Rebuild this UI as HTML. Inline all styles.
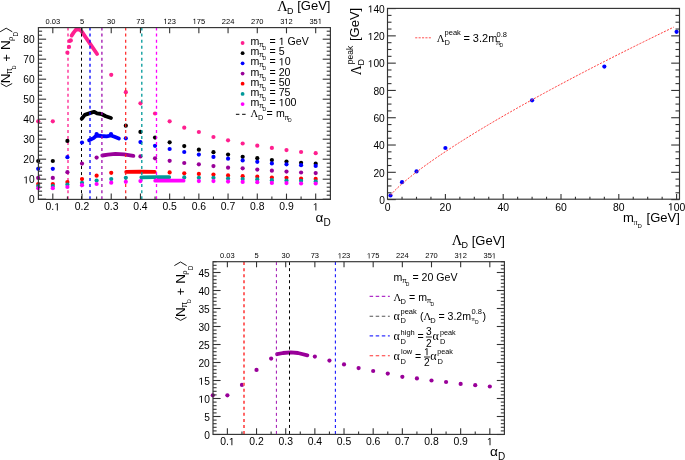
<!DOCTYPE html>
<html><head><meta charset="utf-8"><style>
html,body{margin:0;padding:0;background:#fff;}
svg{display:block;will-change:transform;}
text{font-family:"Liberation Sans",sans-serif;}
text.s{font-family:"Liberation Serif",serif;}
</style></head><body>
<svg width="685" height="460" viewBox="0 0 685 460">
<rect width="685" height="460" fill="#fff"/>
<circle cx="38.20" cy="121.30" r="2.1" fill="#ff1f8f"/>
<circle cx="52.81" cy="121.30" r="2.1" fill="#ff1f8f"/>
<circle cx="67.41" cy="52.70" r="2.1" fill="#ff1f8f"/>
<circle cx="111.23" cy="74.80" r="2.1" fill="#ff1f8f"/>
<circle cx="125.83" cy="92.20" r="2.1" fill="#ff1f8f"/>
<circle cx="140.44" cy="103.30" r="2.1" fill="#ff1f8f"/>
<circle cx="155.04" cy="113.50" r="2.1" fill="#ff1f8f"/>
<circle cx="169.65" cy="121.30" r="2.1" fill="#ff1f8f"/>
<circle cx="184.25" cy="127.70" r="2.1" fill="#ff1f8f"/>
<circle cx="198.86" cy="132.00" r="2.1" fill="#ff1f8f"/>
<circle cx="213.46" cy="137.00" r="2.1" fill="#ff1f8f"/>
<circle cx="228.06" cy="140.30" r="2.1" fill="#ff1f8f"/>
<circle cx="242.67" cy="143.50" r="2.1" fill="#ff1f8f"/>
<circle cx="257.28" cy="145.70" r="2.1" fill="#ff1f8f"/>
<circle cx="271.88" cy="147.90" r="2.1" fill="#ff1f8f"/>
<circle cx="286.49" cy="150.10" r="2.1" fill="#ff1f8f"/>
<circle cx="301.09" cy="152.00" r="2.1" fill="#ff1f8f"/>
<circle cx="315.69" cy="153.20" r="2.1" fill="#ff1f8f"/>
<path d="M71.60,35.60 L73.60,32.60 L75.90,29.70 L77.60,29.40 L79.40,29.60 L81.60,31.40 L97.10,54.00" fill="none" stroke="#ff1f8f" stroke-width="3.8" stroke-linecap="round" stroke-linejoin="round"/>
<circle cx="69.00" cy="46.90" r="2.1" fill="#ff1f8f"/>
<circle cx="69.60" cy="41.00" r="2.1" fill="#ff1f8f"/>
<circle cx="70.80" cy="40.40" r="2.1" fill="#ff1f8f"/>
<line x1="68.00" y1="27.60" x2="68.00" y2="199.40" stroke="#ff1f8f" stroke-width="1.3" stroke-dasharray="3 3.02" stroke-dashoffset="0"/>
<circle cx="38.20" cy="161.00" r="2.1" fill="#000000"/>
<circle cx="52.81" cy="161.00" r="2.1" fill="#000000"/>
<circle cx="67.41" cy="140.90" r="2.1" fill="#000000"/>
<circle cx="125.83" cy="125.70" r="2.1" fill="#000000"/>
<circle cx="140.44" cy="131.90" r="2.1" fill="#000000"/>
<circle cx="155.04" cy="137.60" r="2.1" fill="#000000"/>
<circle cx="169.65" cy="142.30" r="2.1" fill="#000000"/>
<circle cx="184.25" cy="146.10" r="2.1" fill="#000000"/>
<circle cx="198.86" cy="149.70" r="2.1" fill="#000000"/>
<circle cx="213.46" cy="152.20" r="2.1" fill="#000000"/>
<circle cx="228.06" cy="154.60" r="2.1" fill="#000000"/>
<circle cx="242.67" cy="156.80" r="2.1" fill="#000000"/>
<circle cx="257.28" cy="158.20" r="2.1" fill="#000000"/>
<circle cx="271.88" cy="160.10" r="2.1" fill="#000000"/>
<circle cx="286.49" cy="161.60" r="2.1" fill="#000000"/>
<circle cx="301.09" cy="162.80" r="2.1" fill="#000000"/>
<circle cx="315.69" cy="163.70" r="2.1" fill="#000000"/>
<path d="M81.70,118.80 L84.80,114.90 L90.00,113.10 L94.00,111.80 L97.00,113.40 L101.40,114.00 L105.80,116.20 L111.00,118.00" fill="none" stroke="#000000" stroke-width="3.8" stroke-linecap="round" stroke-linejoin="round"/>
<line x1="81.50" y1="27.60" x2="81.50" y2="199.40" stroke="#000000" stroke-width="1.0" stroke-dasharray="3 3.02" stroke-dashoffset="0"/>
<circle cx="38.20" cy="168.80" r="2.1" fill="#0000ff"/>
<circle cx="52.81" cy="168.80" r="2.1" fill="#0000ff"/>
<circle cx="67.41" cy="157.20" r="2.1" fill="#0000ff"/>
<circle cx="82.02" cy="142.50" r="2.1" fill="#0000ff"/>
<circle cx="125.83" cy="138.30" r="2.1" fill="#0000ff"/>
<circle cx="140.44" cy="142.10" r="2.1" fill="#0000ff"/>
<circle cx="155.04" cy="145.80" r="2.1" fill="#0000ff"/>
<circle cx="169.65" cy="149.00" r="2.1" fill="#0000ff"/>
<circle cx="184.25" cy="152.00" r="2.1" fill="#0000ff"/>
<circle cx="198.86" cy="154.60" r="2.1" fill="#0000ff"/>
<circle cx="213.46" cy="156.90" r="2.1" fill="#0000ff"/>
<circle cx="228.06" cy="158.70" r="2.1" fill="#0000ff"/>
<circle cx="242.67" cy="160.40" r="2.1" fill="#0000ff"/>
<circle cx="257.28" cy="161.80" r="2.1" fill="#0000ff"/>
<circle cx="271.88" cy="163.40" r="2.1" fill="#0000ff"/>
<circle cx="286.49" cy="164.30" r="2.1" fill="#0000ff"/>
<circle cx="301.09" cy="165.20" r="2.1" fill="#0000ff"/>
<circle cx="315.69" cy="165.90" r="2.1" fill="#0000ff"/>
<path d="M89.10,140.30 L93.50,138.10 L96.60,135.50 L101.40,136.00 L106.60,136.40 L111.00,135.50 L114.50,136.80 L118.90,138.60" fill="none" stroke="#0000ff" stroke-width="3.8" stroke-linecap="round" stroke-linejoin="round"/>
<circle cx="96.60" cy="134.00" r="2.1" fill="#0000ff"/>
<circle cx="111.00" cy="134.00" r="2.1" fill="#0000ff"/>
<line x1="90.00" y1="27.60" x2="90.00" y2="199.40" stroke="#0000ff" stroke-width="1.3" stroke-dasharray="3 3.02" stroke-dashoffset="0"/>
<circle cx="38.20" cy="177.90" r="2.1" fill="#990099"/>
<circle cx="52.81" cy="177.90" r="2.1" fill="#990099"/>
<circle cx="67.41" cy="172.20" r="2.1" fill="#990099"/>
<circle cx="82.02" cy="163.60" r="2.1" fill="#990099"/>
<circle cx="96.62" cy="157.60" r="2.1" fill="#990099"/>
<circle cx="140.44" cy="156.40" r="2.1" fill="#990099"/>
<circle cx="155.04" cy="158.30" r="2.1" fill="#990099"/>
<circle cx="169.65" cy="160.80" r="2.1" fill="#990099"/>
<circle cx="184.25" cy="163.00" r="2.1" fill="#990099"/>
<circle cx="198.86" cy="164.30" r="2.1" fill="#990099"/>
<circle cx="213.46" cy="166.10" r="2.1" fill="#990099"/>
<circle cx="228.06" cy="167.70" r="2.1" fill="#990099"/>
<circle cx="242.67" cy="168.30" r="2.1" fill="#990099"/>
<circle cx="257.28" cy="169.60" r="2.1" fill="#990099"/>
<circle cx="271.88" cy="170.70" r="2.1" fill="#990099"/>
<circle cx="286.49" cy="171.60" r="2.1" fill="#990099"/>
<circle cx="301.09" cy="172.50" r="2.1" fill="#990099"/>
<circle cx="315.69" cy="173.10" r="2.1" fill="#990099"/>
<path d="M102.30,155.50 L108.00,154.60 L115.40,153.90 L124.00,154.40 L133.40,155.90" fill="none" stroke="#990099" stroke-width="3.8" stroke-linecap="round" stroke-linejoin="round"/>
<line x1="101.90" y1="27.60" x2="101.90" y2="199.40" stroke="#a010b0" stroke-width="1.3" stroke-dasharray="3 3.02" stroke-dashoffset="0"/>
<circle cx="38.20" cy="184.00" r="2.1" fill="#ff0000"/>
<circle cx="52.81" cy="184.10" r="2.1" fill="#ff0000"/>
<circle cx="67.41" cy="182.10" r="2.1" fill="#ff0000"/>
<circle cx="82.02" cy="179.10" r="2.1" fill="#ff0000"/>
<circle cx="96.62" cy="175.70" r="2.1" fill="#ff0000"/>
<circle cx="111.23" cy="172.80" r="2.1" fill="#ff0000"/>
<circle cx="169.65" cy="172.40" r="2.1" fill="#ff0000"/>
<circle cx="184.25" cy="173.30" r="2.1" fill="#ff0000"/>
<circle cx="198.86" cy="173.90" r="2.1" fill="#ff0000"/>
<circle cx="213.46" cy="174.50" r="2.1" fill="#ff0000"/>
<circle cx="228.06" cy="175.40" r="2.1" fill="#ff0000"/>
<circle cx="242.67" cy="176.20" r="2.1" fill="#ff0000"/>
<circle cx="257.28" cy="176.70" r="2.1" fill="#ff0000"/>
<circle cx="271.88" cy="177.50" r="2.1" fill="#ff0000"/>
<circle cx="286.49" cy="177.80" r="2.1" fill="#ff0000"/>
<circle cx="301.09" cy="178.70" r="2.1" fill="#ff0000"/>
<circle cx="315.69" cy="178.90" r="2.1" fill="#ff0000"/>
<path d="M126.20,171.90 L140.00,171.60 L154.70,171.90" fill="none" stroke="#ff0000" stroke-width="3.8" stroke-linecap="round" stroke-linejoin="round"/>
<line x1="125.70" y1="27.60" x2="125.70" y2="199.40" stroke="#ff1a1a" stroke-width="1.15" stroke-dasharray="3 3.02" stroke-dashoffset="0"/>
<circle cx="38.20" cy="186.00" r="2.1" fill="#009999"/>
<circle cx="52.81" cy="186.10" r="2.1" fill="#009999"/>
<circle cx="67.41" cy="184.60" r="2.1" fill="#009999"/>
<circle cx="82.02" cy="182.80" r="2.1" fill="#009999"/>
<circle cx="96.62" cy="180.60" r="2.1" fill="#009999"/>
<circle cx="111.23" cy="179.10" r="2.1" fill="#009999"/>
<circle cx="125.83" cy="177.80" r="2.1" fill="#009999"/>
<circle cx="184.25" cy="177.40" r="2.1" fill="#009999"/>
<circle cx="198.86" cy="177.80" r="2.1" fill="#009999"/>
<circle cx="213.46" cy="177.80" r="2.1" fill="#009999"/>
<circle cx="228.06" cy="178.60" r="2.1" fill="#009999"/>
<circle cx="242.67" cy="179.10" r="2.1" fill="#009999"/>
<circle cx="257.28" cy="179.40" r="2.1" fill="#009999"/>
<circle cx="271.88" cy="180.20" r="2.1" fill="#009999"/>
<circle cx="286.49" cy="180.50" r="2.1" fill="#009999"/>
<circle cx="301.09" cy="180.80" r="2.1" fill="#009999"/>
<circle cx="315.69" cy="181.40" r="2.1" fill="#009999"/>
<path d="M141.30,177.30 L155.00,177.10 L169.20,177.20" fill="none" stroke="#009999" stroke-width="3.8" stroke-linecap="round" stroke-linejoin="round"/>
<line x1="141.80" y1="27.60" x2="141.80" y2="199.40" stroke="#009999" stroke-width="1.3" stroke-dasharray="3 3.02" stroke-dashoffset="0"/>
<circle cx="38.20" cy="188.20" r="2.1" fill="#ff00ff"/>
<circle cx="52.81" cy="188.20" r="2.1" fill="#ff00ff"/>
<circle cx="67.41" cy="187.00" r="2.1" fill="#ff00ff"/>
<circle cx="82.02" cy="185.20" r="2.1" fill="#ff00ff"/>
<circle cx="96.62" cy="184.00" r="2.1" fill="#ff00ff"/>
<circle cx="111.23" cy="182.70" r="2.1" fill="#ff00ff"/>
<circle cx="125.83" cy="181.80" r="2.1" fill="#ff00ff"/>
<circle cx="140.44" cy="181.10" r="2.1" fill="#ff00ff"/>
<circle cx="198.86" cy="181.10" r="2.1" fill="#ff00ff"/>
<circle cx="213.46" cy="181.10" r="2.1" fill="#ff00ff"/>
<circle cx="228.06" cy="181.60" r="2.1" fill="#ff00ff"/>
<circle cx="242.67" cy="181.90" r="2.1" fill="#ff00ff"/>
<circle cx="257.28" cy="182.20" r="2.1" fill="#ff00ff"/>
<circle cx="271.88" cy="182.90" r="2.1" fill="#ff00ff"/>
<circle cx="286.49" cy="183.10" r="2.1" fill="#ff00ff"/>
<circle cx="301.09" cy="183.50" r="2.1" fill="#ff00ff"/>
<circle cx="315.69" cy="183.50" r="2.1" fill="#ff00ff"/>
<path d="M155.20,180.70 L170.00,180.60 L183.60,180.70" fill="none" stroke="#ff00ff" stroke-width="3.8" stroke-linecap="round" stroke-linejoin="round"/>
<line x1="156.50" y1="27.60" x2="156.50" y2="199.40" stroke="#ff00ff" stroke-width="1.3" stroke-dasharray="3 3.02" stroke-dashoffset="0"/>
<rect x="38.40" y="27.60" width="292.00" height="171.80" fill="none" stroke="#333" stroke-width="1.15"/>
<line x1="38.40" y1="199.20" x2="46.10" y2="199.20" stroke="#333" stroke-width="1.1" />
<line x1="330.40" y1="199.20" x2="322.70" y2="199.20" stroke="#333" stroke-width="1.1" />
<line x1="38.40" y1="195.20" x2="42.10" y2="195.20" stroke="#333" stroke-width="1.1" />
<line x1="330.40" y1="195.20" x2="326.70" y2="195.20" stroke="#333" stroke-width="1.1" />
<line x1="38.40" y1="191.20" x2="42.10" y2="191.20" stroke="#333" stroke-width="1.1" />
<line x1="330.40" y1="191.20" x2="326.70" y2="191.20" stroke="#333" stroke-width="1.1" />
<line x1="38.40" y1="187.20" x2="42.10" y2="187.20" stroke="#333" stroke-width="1.1" />
<line x1="330.40" y1="187.20" x2="326.70" y2="187.20" stroke="#333" stroke-width="1.1" />
<line x1="38.40" y1="183.20" x2="42.10" y2="183.20" stroke="#333" stroke-width="1.1" />
<line x1="330.40" y1="183.20" x2="326.70" y2="183.20" stroke="#333" stroke-width="1.1" />
<line x1="38.40" y1="179.20" x2="46.10" y2="179.20" stroke="#333" stroke-width="1.1" />
<line x1="330.40" y1="179.20" x2="322.70" y2="179.20" stroke="#333" stroke-width="1.1" />
<line x1="38.40" y1="175.20" x2="42.10" y2="175.20" stroke="#333" stroke-width="1.1" />
<line x1="330.40" y1="175.20" x2="326.70" y2="175.20" stroke="#333" stroke-width="1.1" />
<line x1="38.40" y1="171.20" x2="42.10" y2="171.20" stroke="#333" stroke-width="1.1" />
<line x1="330.40" y1="171.20" x2="326.70" y2="171.20" stroke="#333" stroke-width="1.1" />
<line x1="38.40" y1="167.20" x2="42.10" y2="167.20" stroke="#333" stroke-width="1.1" />
<line x1="330.40" y1="167.20" x2="326.70" y2="167.20" stroke="#333" stroke-width="1.1" />
<line x1="38.40" y1="163.20" x2="42.10" y2="163.20" stroke="#333" stroke-width="1.1" />
<line x1="330.40" y1="163.20" x2="326.70" y2="163.20" stroke="#333" stroke-width="1.1" />
<line x1="38.40" y1="159.20" x2="46.10" y2="159.20" stroke="#333" stroke-width="1.1" />
<line x1="330.40" y1="159.20" x2="322.70" y2="159.20" stroke="#333" stroke-width="1.1" />
<line x1="38.40" y1="155.20" x2="42.10" y2="155.20" stroke="#333" stroke-width="1.1" />
<line x1="330.40" y1="155.20" x2="326.70" y2="155.20" stroke="#333" stroke-width="1.1" />
<line x1="38.40" y1="151.20" x2="42.10" y2="151.20" stroke="#333" stroke-width="1.1" />
<line x1="330.40" y1="151.20" x2="326.70" y2="151.20" stroke="#333" stroke-width="1.1" />
<line x1="38.40" y1="147.20" x2="42.10" y2="147.20" stroke="#333" stroke-width="1.1" />
<line x1="330.40" y1="147.20" x2="326.70" y2="147.20" stroke="#333" stroke-width="1.1" />
<line x1="38.40" y1="143.20" x2="42.10" y2="143.20" stroke="#333" stroke-width="1.1" />
<line x1="330.40" y1="143.20" x2="326.70" y2="143.20" stroke="#333" stroke-width="1.1" />
<line x1="38.40" y1="139.20" x2="46.10" y2="139.20" stroke="#333" stroke-width="1.1" />
<line x1="330.40" y1="139.20" x2="322.70" y2="139.20" stroke="#333" stroke-width="1.1" />
<line x1="38.40" y1="135.20" x2="42.10" y2="135.20" stroke="#333" stroke-width="1.1" />
<line x1="330.40" y1="135.20" x2="326.70" y2="135.20" stroke="#333" stroke-width="1.1" />
<line x1="38.40" y1="131.20" x2="42.10" y2="131.20" stroke="#333" stroke-width="1.1" />
<line x1="330.40" y1="131.20" x2="326.70" y2="131.20" stroke="#333" stroke-width="1.1" />
<line x1="38.40" y1="127.20" x2="42.10" y2="127.20" stroke="#333" stroke-width="1.1" />
<line x1="330.40" y1="127.20" x2="326.70" y2="127.20" stroke="#333" stroke-width="1.1" />
<line x1="38.40" y1="123.20" x2="42.10" y2="123.20" stroke="#333" stroke-width="1.1" />
<line x1="330.40" y1="123.20" x2="326.70" y2="123.20" stroke="#333" stroke-width="1.1" />
<line x1="38.40" y1="119.20" x2="46.10" y2="119.20" stroke="#333" stroke-width="1.1" />
<line x1="330.40" y1="119.20" x2="322.70" y2="119.20" stroke="#333" stroke-width="1.1" />
<line x1="38.40" y1="115.20" x2="42.10" y2="115.20" stroke="#333" stroke-width="1.1" />
<line x1="330.40" y1="115.20" x2="326.70" y2="115.20" stroke="#333" stroke-width="1.1" />
<line x1="38.40" y1="111.20" x2="42.10" y2="111.20" stroke="#333" stroke-width="1.1" />
<line x1="330.40" y1="111.20" x2="326.70" y2="111.20" stroke="#333" stroke-width="1.1" />
<line x1="38.40" y1="107.20" x2="42.10" y2="107.20" stroke="#333" stroke-width="1.1" />
<line x1="330.40" y1="107.20" x2="326.70" y2="107.20" stroke="#333" stroke-width="1.1" />
<line x1="38.40" y1="103.20" x2="42.10" y2="103.20" stroke="#333" stroke-width="1.1" />
<line x1="330.40" y1="103.20" x2="326.70" y2="103.20" stroke="#333" stroke-width="1.1" />
<line x1="38.40" y1="99.20" x2="46.10" y2="99.20" stroke="#333" stroke-width="1.1" />
<line x1="330.40" y1="99.20" x2="322.70" y2="99.20" stroke="#333" stroke-width="1.1" />
<line x1="38.40" y1="95.20" x2="42.10" y2="95.20" stroke="#333" stroke-width="1.1" />
<line x1="330.40" y1="95.20" x2="326.70" y2="95.20" stroke="#333" stroke-width="1.1" />
<line x1="38.40" y1="91.20" x2="42.10" y2="91.20" stroke="#333" stroke-width="1.1" />
<line x1="330.40" y1="91.20" x2="326.70" y2="91.20" stroke="#333" stroke-width="1.1" />
<line x1="38.40" y1="87.20" x2="42.10" y2="87.20" stroke="#333" stroke-width="1.1" />
<line x1="330.40" y1="87.20" x2="326.70" y2="87.20" stroke="#333" stroke-width="1.1" />
<line x1="38.40" y1="83.20" x2="42.10" y2="83.20" stroke="#333" stroke-width="1.1" />
<line x1="330.40" y1="83.20" x2="326.70" y2="83.20" stroke="#333" stroke-width="1.1" />
<line x1="38.40" y1="79.20" x2="46.10" y2="79.20" stroke="#333" stroke-width="1.1" />
<line x1="330.40" y1="79.20" x2="322.70" y2="79.20" stroke="#333" stroke-width="1.1" />
<line x1="38.40" y1="75.20" x2="42.10" y2="75.20" stroke="#333" stroke-width="1.1" />
<line x1="330.40" y1="75.20" x2="326.70" y2="75.20" stroke="#333" stroke-width="1.1" />
<line x1="38.40" y1="71.20" x2="42.10" y2="71.20" stroke="#333" stroke-width="1.1" />
<line x1="330.40" y1="71.20" x2="326.70" y2="71.20" stroke="#333" stroke-width="1.1" />
<line x1="38.40" y1="67.20" x2="42.10" y2="67.20" stroke="#333" stroke-width="1.1" />
<line x1="330.40" y1="67.20" x2="326.70" y2="67.20" stroke="#333" stroke-width="1.1" />
<line x1="38.40" y1="63.20" x2="42.10" y2="63.20" stroke="#333" stroke-width="1.1" />
<line x1="330.40" y1="63.20" x2="326.70" y2="63.20" stroke="#333" stroke-width="1.1" />
<line x1="38.40" y1="59.20" x2="46.10" y2="59.20" stroke="#333" stroke-width="1.1" />
<line x1="330.40" y1="59.20" x2="322.70" y2="59.20" stroke="#333" stroke-width="1.1" />
<line x1="38.40" y1="55.20" x2="42.10" y2="55.20" stroke="#333" stroke-width="1.1" />
<line x1="330.40" y1="55.20" x2="326.70" y2="55.20" stroke="#333" stroke-width="1.1" />
<line x1="38.40" y1="51.20" x2="42.10" y2="51.20" stroke="#333" stroke-width="1.1" />
<line x1="330.40" y1="51.20" x2="326.70" y2="51.20" stroke="#333" stroke-width="1.1" />
<line x1="38.40" y1="47.20" x2="42.10" y2="47.20" stroke="#333" stroke-width="1.1" />
<line x1="330.40" y1="47.20" x2="326.70" y2="47.20" stroke="#333" stroke-width="1.1" />
<line x1="38.40" y1="43.20" x2="42.10" y2="43.20" stroke="#333" stroke-width="1.1" />
<line x1="330.40" y1="43.20" x2="326.70" y2="43.20" stroke="#333" stroke-width="1.1" />
<line x1="38.40" y1="39.20" x2="46.10" y2="39.20" stroke="#333" stroke-width="1.1" />
<line x1="330.40" y1="39.20" x2="322.70" y2="39.20" stroke="#333" stroke-width="1.1" />
<line x1="38.40" y1="35.20" x2="42.10" y2="35.20" stroke="#333" stroke-width="1.1" />
<line x1="330.40" y1="35.20" x2="326.70" y2="35.20" stroke="#333" stroke-width="1.1" />
<line x1="38.40" y1="31.20" x2="42.10" y2="31.20" stroke="#333" stroke-width="1.1" />
<line x1="330.40" y1="31.20" x2="326.70" y2="31.20" stroke="#333" stroke-width="1.1" />
<line x1="52.81" y1="199.40" x2="52.81" y2="193.60" stroke="#333" stroke-width="1.1" />
<line x1="67.41" y1="199.40" x2="67.41" y2="196.50" stroke="#333" stroke-width="1.1" />
<line x1="82.02" y1="199.40" x2="82.02" y2="193.60" stroke="#333" stroke-width="1.1" />
<line x1="96.62" y1="199.40" x2="96.62" y2="196.50" stroke="#333" stroke-width="1.1" />
<line x1="111.23" y1="199.40" x2="111.23" y2="193.60" stroke="#333" stroke-width="1.1" />
<line x1="125.83" y1="199.40" x2="125.83" y2="196.50" stroke="#333" stroke-width="1.1" />
<line x1="140.44" y1="199.40" x2="140.44" y2="193.60" stroke="#333" stroke-width="1.1" />
<line x1="155.04" y1="199.40" x2="155.04" y2="196.50" stroke="#333" stroke-width="1.1" />
<line x1="169.65" y1="199.40" x2="169.65" y2="193.60" stroke="#333" stroke-width="1.1" />
<line x1="184.25" y1="199.40" x2="184.25" y2="196.50" stroke="#333" stroke-width="1.1" />
<line x1="198.86" y1="199.40" x2="198.86" y2="193.60" stroke="#333" stroke-width="1.1" />
<line x1="213.46" y1="199.40" x2="213.46" y2="196.50" stroke="#333" stroke-width="1.1" />
<line x1="228.06" y1="199.40" x2="228.06" y2="193.60" stroke="#333" stroke-width="1.1" />
<line x1="242.67" y1="199.40" x2="242.67" y2="196.50" stroke="#333" stroke-width="1.1" />
<line x1="257.28" y1="199.40" x2="257.28" y2="193.60" stroke="#333" stroke-width="1.1" />
<line x1="271.88" y1="199.40" x2="271.88" y2="196.50" stroke="#333" stroke-width="1.1" />
<line x1="286.49" y1="199.40" x2="286.49" y2="193.60" stroke="#333" stroke-width="1.1" />
<line x1="301.09" y1="199.40" x2="301.09" y2="196.50" stroke="#333" stroke-width="1.1" />
<line x1="315.69" y1="199.40" x2="315.69" y2="193.60" stroke="#333" stroke-width="1.1" />
<line x1="52.81" y1="27.60" x2="52.81" y2="33.30" stroke="#333" stroke-width="1.1" />
<text x="52.81" y="24.00" font-size="7.5" text-anchor="middle" fill="#000" >0.03</text>
<line x1="82.02" y1="27.60" x2="82.02" y2="33.30" stroke="#333" stroke-width="1.1" />
<text x="82.02" y="24.00" font-size="7.5" text-anchor="middle" fill="#000" >5</text>
<line x1="111.23" y1="27.60" x2="111.23" y2="33.30" stroke="#333" stroke-width="1.1" />
<text x="111.23" y="24.00" font-size="7.5" text-anchor="middle" fill="#000" >30</text>
<line x1="140.44" y1="27.60" x2="140.44" y2="33.30" stroke="#333" stroke-width="1.1" />
<text x="140.44" y="24.00" font-size="7.5" text-anchor="middle" fill="#000" >73</text>
<line x1="169.65" y1="27.60" x2="169.65" y2="33.30" stroke="#333" stroke-width="1.1" />
<path d="M515,0 L515,1237 L197,1010 L197,1180 L530,1409 L696,1409 L696,0 Z" fill="#000" transform="translate(163.39,24.00) scale(0.00366,-0.00366)"/>
<text x="167.56" y="24.00" font-size="7.5" fill="#000" xml:space="preserve">23</text>
<line x1="198.86" y1="27.60" x2="198.86" y2="33.30" stroke="#333" stroke-width="1.1" />
<path d="M515,0 L515,1237 L197,1010 L197,1180 L530,1409 L696,1409 L696,0 Z" fill="#000" transform="translate(192.60,24.00) scale(0.00366,-0.00366)"/>
<text x="196.77" y="24.00" font-size="7.5" fill="#000" xml:space="preserve">75</text>
<line x1="228.06" y1="27.60" x2="228.06" y2="33.30" stroke="#333" stroke-width="1.1" />
<text x="228.06" y="24.00" font-size="7.5" text-anchor="middle" fill="#000" >224</text>
<line x1="257.28" y1="27.60" x2="257.28" y2="33.30" stroke="#333" stroke-width="1.1" />
<text x="257.28" y="24.00" font-size="7.5" text-anchor="middle" fill="#000" >270</text>
<line x1="286.49" y1="27.60" x2="286.49" y2="33.30" stroke="#333" stroke-width="1.1" />
<text x="280.23" y="24.00" font-size="7.5" fill="#000" xml:space="preserve">3</text>
<path d="M515,0 L515,1237 L197,1010 L197,1180 L530,1409 L696,1409 L696,0 Z" fill="#000" transform="translate(284.40,24.00) scale(0.00366,-0.00366)"/>
<text x="288.57" y="24.00" font-size="7.5" fill="#000" xml:space="preserve">2</text>
<line x1="315.69" y1="27.60" x2="315.69" y2="33.30" stroke="#333" stroke-width="1.1" />
<text x="309.44" y="24.00" font-size="7.5" fill="#000" xml:space="preserve">35</text>
<path d="M515,0 L515,1237 L197,1010 L197,1180 L530,1409 L696,1409 L696,0 Z" fill="#000" transform="translate(317.78,24.00) scale(0.00366,-0.00366)"/>
<text x="45.58" y="210.40" font-size="10.4" fill="#000" xml:space="preserve">0.</text>
<path d="M515,0 L515,1237 L197,1010 L197,1180 L530,1409 L696,1409 L696,0 Z" fill="#000" transform="translate(54.25,210.40) scale(0.00508,-0.00508)"/>
<text x="82.02" y="210.40" font-size="10.4" text-anchor="middle" fill="#000" >0.2</text>
<text x="111.23" y="210.40" font-size="10.4" text-anchor="middle" fill="#000" >0.3</text>
<text x="140.44" y="210.40" font-size="10.4" text-anchor="middle" fill="#000" >0.4</text>
<text x="169.65" y="210.40" font-size="10.4" text-anchor="middle" fill="#000" >0.5</text>
<text x="198.86" y="210.40" font-size="10.4" text-anchor="middle" fill="#000" >0.6</text>
<text x="228.06" y="210.40" font-size="10.4" text-anchor="middle" fill="#000" >0.7</text>
<text x="257.28" y="210.40" font-size="10.4" text-anchor="middle" fill="#000" >0.8</text>
<text x="286.49" y="210.40" font-size="10.4" text-anchor="middle" fill="#000" >0.9</text>
<path d="M515,0 L515,1237 L197,1010 L197,1180 L530,1409 L696,1409 L696,0 Z" fill="#000" transform="translate(312.80,210.40) scale(0.00508,-0.00508)"/>
<text x="34.60" y="203.40" font-size="10.2" text-anchor="end" fill="#000" >0</text>
<path d="M515,0 L515,1237 L197,1010 L197,1180 L530,1409 L696,1409 L696,0 Z" fill="#000" transform="translate(23.25,183.40) scale(0.00498,-0.00498)"/>
<text x="28.93" y="183.40" font-size="10.2" fill="#000" xml:space="preserve">0</text>
<text x="34.60" y="163.40" font-size="10.2" text-anchor="end" fill="#000" >20</text>
<text x="34.60" y="143.40" font-size="10.2" text-anchor="end" fill="#000" >30</text>
<text x="34.60" y="123.40" font-size="10.2" text-anchor="end" fill="#000" >40</text>
<text x="34.60" y="103.40" font-size="10.2" text-anchor="end" fill="#000" >50</text>
<text x="34.60" y="83.40" font-size="10.2" text-anchor="end" fill="#000" >60</text>
<text x="34.60" y="63.40" font-size="10.2" text-anchor="end" fill="#000" >70</text>
<text x="34.60" y="43.40" font-size="10.2" text-anchor="end" fill="#000" >80</text>
<text x="330.50" y="10.10" font-size="13" text-anchor="end" fill="#000" >[GeV]</text>
<text x="277.30" y="10.90" font-size="14.5" text-anchor="start" fill="#000" style="font-family:'Liberation Serif',serif">Λ</text>
<text x="287.00" y="13.60" font-size="9" text-anchor="start" fill="#000" >D</text>
<text x="315.40" y="221.80" font-size="13.6" text-anchor="start" fill="#000" >α</text>
<text x="323.40" y="225.70" font-size="10" text-anchor="start" fill="#000" >D</text>
<circle cx="390.49" cy="195.50" r="2.1" fill="#0000ff"/>
<circle cx="402.05" cy="182.20" r="2.1" fill="#0000ff"/>
<circle cx="416.50" cy="171.40" r="2.1" fill="#0000ff"/>
<circle cx="445.40" cy="148.00" r="2.1" fill="#0000ff"/>
<circle cx="532.10" cy="100.30" r="2.1" fill="#0000ff"/>
<circle cx="604.35" cy="66.60" r="2.1" fill="#0000ff"/>
<circle cx="676.60" cy="31.80" r="2.1" fill="#0000ff"/>
<path d="M390.49,195.23 L391.94,193.56 L393.38,192.00 L394.83,190.51 L396.27,189.08 L397.72,187.70 L399.16,186.36 L400.61,185.06 L402.05,183.78 L403.50,182.52 L404.94,181.29 L406.39,180.08 L407.83,178.89 L409.28,177.71 L410.72,176.55 L412.17,175.41 L413.61,174.28 L415.06,173.16 L416.50,172.05 L417.95,170.95 L419.39,169.87 L420.84,168.79 L422.28,167.72 L423.73,166.67 L425.17,165.62 L426.62,164.57 L428.06,163.54 L429.50,162.51 L430.95,161.49 L432.40,160.48 L433.84,159.47 L435.29,158.47 L436.73,157.48 L438.18,156.49 L439.62,155.51 L441.07,154.53 L442.51,153.56 L443.96,152.59 L445.40,151.63 L446.85,150.68 L448.29,149.72 L449.74,148.78 L451.18,147.83 L452.62,146.89 L454.07,145.96 L455.52,145.03 L456.96,144.10 L458.41,143.18 L459.85,142.26 L461.30,141.34 L462.74,140.43 L464.19,139.52 L465.63,138.62 L467.08,137.71 L468.52,136.82 L469.97,135.92 L471.41,135.03 L472.86,134.14 L474.30,133.25 L475.75,132.37 L477.19,131.49 L478.64,130.61 L480.08,129.74 L481.53,128.87 L482.97,128.00 L484.42,127.13 L485.86,126.27 L487.31,125.40 L488.75,124.55 L490.20,123.69 L491.64,122.83 L493.09,121.98 L494.53,121.13 L495.98,120.29 L497.42,119.44 L498.87,118.60 L500.31,117.76 L501.75,116.92 L503.20,116.08 L504.65,115.25 L506.09,114.42 L507.54,113.59 L508.98,112.76 L510.43,111.93 L511.87,111.11 L513.32,110.29 L514.76,109.47 L516.21,108.65 L517.65,107.83 L519.10,107.02 L520.54,106.20 L521.99,105.39 L523.43,104.58 L524.88,103.78 L526.32,102.97 L527.76,102.16 L529.21,101.36 L530.65,100.56 L532.10,99.76 L533.55,98.96 L534.99,98.17 L536.44,97.37 L537.88,96.58 L539.33,95.79 L540.77,95.00 L542.22,94.21 L543.66,93.42 L545.11,92.64 L546.55,91.85 L548.00,91.07 L549.44,90.29 L550.88,89.51 L552.33,88.73 L553.78,87.95 L555.22,87.17 L556.66,86.40 L558.11,85.63 L559.56,84.85 L561.00,84.08 L562.45,83.31 L563.89,82.55 L565.34,81.78 L566.78,81.01 L568.23,80.25 L569.67,79.49 L571.12,78.72 L572.56,77.96 L574.00,77.20 L575.45,76.44 L576.89,75.69 L578.34,74.93 L579.79,74.18 L581.23,73.42 L582.68,72.67 L584.12,71.92 L585.57,71.17 L587.01,70.42 L588.46,69.67 L589.90,68.92 L591.35,68.18 L592.79,67.43 L594.24,66.69 L595.68,65.94 L597.12,65.20 L598.57,64.46 L600.02,63.72 L601.46,62.98 L602.90,62.24 L604.35,61.51 L605.80,60.77 L607.24,60.04 L608.69,59.30 L610.13,58.57 L611.58,57.84 L613.02,57.11 L614.47,56.37 L615.91,55.65 L617.36,54.92 L618.80,54.19 L620.25,53.46 L621.69,52.74 L623.13,52.01 L624.58,51.29 L626.03,50.57 L627.47,49.84 L628.91,49.12 L630.36,48.40 L631.81,47.68 L633.25,46.96 L634.70,46.25 L636.14,45.53 L637.59,44.81 L639.03,44.10 L640.48,43.38 L641.92,42.67 L643.37,41.96 L644.81,41.24 L646.26,40.53 L647.70,39.82 L649.14,39.11 L650.59,38.40 L652.04,37.69 L653.48,36.99 L654.92,36.28 L656.37,35.58 L657.82,34.87 L659.26,34.17 L660.71,33.46 L662.15,32.76 L663.60,32.06 L665.04,31.36 L666.49,30.65 L667.93,29.96 L669.38,29.26 L670.82,28.56 L672.27,27.86 L673.71,27.16" fill="none" stroke="#ff3a3a" stroke-width="1" stroke-dasharray="2.1 1.3"/>
<rect x="387.50" y="8.40" width="292.00" height="190.80" fill="none" stroke="#333" stroke-width="1.15"/>
<line x1="387.50" y1="199.60" x2="395.80" y2="199.60" stroke="#333" stroke-width="1.1" />
<line x1="679.50" y1="199.60" x2="671.20" y2="199.60" stroke="#333" stroke-width="1.1" />
<text x="384.80" y="204.00" font-size="10.2" text-anchor="end" fill="#000" >0</text>
<line x1="387.50" y1="192.78" x2="391.50" y2="192.78" stroke="#333" stroke-width="1.1" />
<line x1="679.50" y1="192.78" x2="675.50" y2="192.78" stroke="#333" stroke-width="1.1" />
<line x1="387.50" y1="185.95" x2="391.50" y2="185.95" stroke="#333" stroke-width="1.1" />
<line x1="679.50" y1="185.95" x2="675.50" y2="185.95" stroke="#333" stroke-width="1.1" />
<line x1="387.50" y1="179.13" x2="391.50" y2="179.13" stroke="#333" stroke-width="1.1" />
<line x1="679.50" y1="179.13" x2="675.50" y2="179.13" stroke="#333" stroke-width="1.1" />
<line x1="387.50" y1="172.31" x2="395.80" y2="172.31" stroke="#333" stroke-width="1.1" />
<line x1="679.50" y1="172.31" x2="671.20" y2="172.31" stroke="#333" stroke-width="1.1" />
<text x="384.80" y="176.65" font-size="10.2" text-anchor="end" fill="#000" >20</text>
<line x1="387.50" y1="165.49" x2="391.50" y2="165.49" stroke="#333" stroke-width="1.1" />
<line x1="679.50" y1="165.49" x2="675.50" y2="165.49" stroke="#333" stroke-width="1.1" />
<line x1="387.50" y1="158.66" x2="391.50" y2="158.66" stroke="#333" stroke-width="1.1" />
<line x1="679.50" y1="158.66" x2="675.50" y2="158.66" stroke="#333" stroke-width="1.1" />
<line x1="387.50" y1="151.84" x2="391.50" y2="151.84" stroke="#333" stroke-width="1.1" />
<line x1="679.50" y1="151.84" x2="675.50" y2="151.84" stroke="#333" stroke-width="1.1" />
<line x1="387.50" y1="145.02" x2="395.80" y2="145.02" stroke="#333" stroke-width="1.1" />
<line x1="679.50" y1="145.02" x2="671.20" y2="145.02" stroke="#333" stroke-width="1.1" />
<text x="384.80" y="149.31" font-size="10.2" text-anchor="end" fill="#000" >40</text>
<line x1="387.50" y1="138.20" x2="391.50" y2="138.20" stroke="#333" stroke-width="1.1" />
<line x1="679.50" y1="138.20" x2="675.50" y2="138.20" stroke="#333" stroke-width="1.1" />
<line x1="387.50" y1="131.38" x2="391.50" y2="131.38" stroke="#333" stroke-width="1.1" />
<line x1="679.50" y1="131.38" x2="675.50" y2="131.38" stroke="#333" stroke-width="1.1" />
<line x1="387.50" y1="124.55" x2="391.50" y2="124.55" stroke="#333" stroke-width="1.1" />
<line x1="679.50" y1="124.55" x2="675.50" y2="124.55" stroke="#333" stroke-width="1.1" />
<line x1="387.50" y1="117.73" x2="395.80" y2="117.73" stroke="#333" stroke-width="1.1" />
<line x1="679.50" y1="117.73" x2="671.20" y2="117.73" stroke="#333" stroke-width="1.1" />
<text x="384.80" y="121.96" font-size="10.2" text-anchor="end" fill="#000" >60</text>
<line x1="387.50" y1="110.91" x2="391.50" y2="110.91" stroke="#333" stroke-width="1.1" />
<line x1="679.50" y1="110.91" x2="675.50" y2="110.91" stroke="#333" stroke-width="1.1" />
<line x1="387.50" y1="104.08" x2="391.50" y2="104.08" stroke="#333" stroke-width="1.1" />
<line x1="679.50" y1="104.08" x2="675.50" y2="104.08" stroke="#333" stroke-width="1.1" />
<line x1="387.50" y1="97.26" x2="391.50" y2="97.26" stroke="#333" stroke-width="1.1" />
<line x1="679.50" y1="97.26" x2="675.50" y2="97.26" stroke="#333" stroke-width="1.1" />
<line x1="387.50" y1="90.44" x2="395.80" y2="90.44" stroke="#333" stroke-width="1.1" />
<line x1="679.50" y1="90.44" x2="671.20" y2="90.44" stroke="#333" stroke-width="1.1" />
<text x="384.80" y="94.61" font-size="10.2" text-anchor="end" fill="#000" >80</text>
<line x1="387.50" y1="83.62" x2="391.50" y2="83.62" stroke="#333" stroke-width="1.1" />
<line x1="679.50" y1="83.62" x2="675.50" y2="83.62" stroke="#333" stroke-width="1.1" />
<line x1="387.50" y1="76.79" x2="391.50" y2="76.79" stroke="#333" stroke-width="1.1" />
<line x1="679.50" y1="76.79" x2="675.50" y2="76.79" stroke="#333" stroke-width="1.1" />
<line x1="387.50" y1="69.97" x2="391.50" y2="69.97" stroke="#333" stroke-width="1.1" />
<line x1="679.50" y1="69.97" x2="675.50" y2="69.97" stroke="#333" stroke-width="1.1" />
<line x1="387.50" y1="63.15" x2="395.80" y2="63.15" stroke="#333" stroke-width="1.1" />
<line x1="679.50" y1="63.15" x2="671.20" y2="63.15" stroke="#333" stroke-width="1.1" />
<path d="M515,0 L515,1237 L197,1010 L197,1180 L530,1409 L696,1409 L696,0 Z" fill="#000" transform="translate(367.78,67.26) scale(0.00498,-0.00498)"/>
<text x="373.45" y="67.26" font-size="10.2" fill="#000" xml:space="preserve">00</text>
<line x1="387.50" y1="56.33" x2="391.50" y2="56.33" stroke="#333" stroke-width="1.1" />
<line x1="679.50" y1="56.33" x2="675.50" y2="56.33" stroke="#333" stroke-width="1.1" />
<line x1="387.50" y1="49.50" x2="391.50" y2="49.50" stroke="#333" stroke-width="1.1" />
<line x1="679.50" y1="49.50" x2="675.50" y2="49.50" stroke="#333" stroke-width="1.1" />
<line x1="387.50" y1="42.68" x2="391.50" y2="42.68" stroke="#333" stroke-width="1.1" />
<line x1="679.50" y1="42.68" x2="675.50" y2="42.68" stroke="#333" stroke-width="1.1" />
<line x1="387.50" y1="35.86" x2="395.80" y2="35.86" stroke="#333" stroke-width="1.1" />
<line x1="679.50" y1="35.86" x2="671.20" y2="35.86" stroke="#333" stroke-width="1.1" />
<path d="M515,0 L515,1237 L197,1010 L197,1180 L530,1409 L696,1409 L696,0 Z" fill="#000" transform="translate(367.78,39.92) scale(0.00498,-0.00498)"/>
<text x="373.45" y="39.92" font-size="10.2" fill="#000" xml:space="preserve">20</text>
<line x1="387.50" y1="29.04" x2="391.50" y2="29.04" stroke="#333" stroke-width="1.1" />
<line x1="679.50" y1="29.04" x2="675.50" y2="29.04" stroke="#333" stroke-width="1.1" />
<line x1="387.50" y1="22.21" x2="391.50" y2="22.21" stroke="#333" stroke-width="1.1" />
<line x1="679.50" y1="22.21" x2="675.50" y2="22.21" stroke="#333" stroke-width="1.1" />
<line x1="387.50" y1="15.39" x2="391.50" y2="15.39" stroke="#333" stroke-width="1.1" />
<line x1="679.50" y1="15.39" x2="675.50" y2="15.39" stroke="#333" stroke-width="1.1" />
<line x1="387.50" y1="8.57" x2="395.80" y2="8.57" stroke="#333" stroke-width="1.1" />
<line x1="679.50" y1="8.57" x2="671.20" y2="8.57" stroke="#333" stroke-width="1.1" />
<path d="M515,0 L515,1237 L197,1010 L197,1180 L530,1409 L696,1409 L696,0 Z" fill="#000" transform="translate(367.78,12.57) scale(0.00498,-0.00498)"/>
<text x="373.45" y="12.57" font-size="10.2" fill="#000" xml:space="preserve">40</text>
<text x="387.60" y="210.50" font-size="10.4" text-anchor="middle" fill="#000" >0</text>
<line x1="402.05" y1="199.20" x2="402.05" y2="196.80" stroke="#333" stroke-width="1.1" />
<line x1="416.50" y1="199.20" x2="416.50" y2="196.80" stroke="#333" stroke-width="1.1" />
<line x1="430.95" y1="199.20" x2="430.95" y2="196.80" stroke="#333" stroke-width="1.1" />
<line x1="445.40" y1="199.20" x2="445.40" y2="193.90" stroke="#333" stroke-width="1.1" />
<text x="445.40" y="210.50" font-size="10.4" text-anchor="middle" fill="#000" >20</text>
<line x1="459.85" y1="199.20" x2="459.85" y2="196.80" stroke="#333" stroke-width="1.1" />
<line x1="474.30" y1="199.20" x2="474.30" y2="196.80" stroke="#333" stroke-width="1.1" />
<line x1="488.75" y1="199.20" x2="488.75" y2="196.80" stroke="#333" stroke-width="1.1" />
<line x1="503.20" y1="199.20" x2="503.20" y2="193.90" stroke="#333" stroke-width="1.1" />
<text x="503.20" y="210.50" font-size="10.4" text-anchor="middle" fill="#000" >40</text>
<line x1="517.65" y1="199.20" x2="517.65" y2="196.80" stroke="#333" stroke-width="1.1" />
<line x1="532.10" y1="199.20" x2="532.10" y2="196.80" stroke="#333" stroke-width="1.1" />
<line x1="546.55" y1="199.20" x2="546.55" y2="196.80" stroke="#333" stroke-width="1.1" />
<line x1="561.00" y1="199.20" x2="561.00" y2="193.90" stroke="#333" stroke-width="1.1" />
<text x="561.00" y="210.50" font-size="10.4" text-anchor="middle" fill="#000" >60</text>
<line x1="575.45" y1="199.20" x2="575.45" y2="196.80" stroke="#333" stroke-width="1.1" />
<line x1="589.90" y1="199.20" x2="589.90" y2="196.80" stroke="#333" stroke-width="1.1" />
<line x1="604.35" y1="199.20" x2="604.35" y2="196.80" stroke="#333" stroke-width="1.1" />
<line x1="618.80" y1="199.20" x2="618.80" y2="193.90" stroke="#333" stroke-width="1.1" />
<text x="618.80" y="210.50" font-size="10.4" text-anchor="middle" fill="#000" >80</text>
<line x1="633.25" y1="199.20" x2="633.25" y2="196.80" stroke="#333" stroke-width="1.1" />
<line x1="647.70" y1="199.20" x2="647.70" y2="196.80" stroke="#333" stroke-width="1.1" />
<line x1="662.15" y1="199.20" x2="662.15" y2="196.80" stroke="#333" stroke-width="1.1" />
<line x1="676.60" y1="199.20" x2="676.60" y2="193.90" stroke="#333" stroke-width="1.1" />
<path d="M515,0 L515,1237 L197,1010 L197,1180 L530,1409 L696,1409 L696,0 Z" fill="#000" transform="translate(667.92,210.50) scale(0.00508,-0.00508)"/>
<text x="673.71" y="210.50" font-size="10.4" fill="#000" xml:space="preserve">00</text>
<text x="679.80" y="222.40" font-size="13" text-anchor="end" fill="#000" >[GeV]</text>
<text x="623.00" y="221.50" font-size="13" text-anchor="start" fill="#000" >m</text>
<text x="633.60" y="224.80" font-size="8" text-anchor="start" fill="#000" style="font-family:'Liberation Serif',serif">π</text>
<text x="637.60" y="228.00" font-size="6" text-anchor="start" fill="#000" >D</text>
<g transform="translate(359,41) rotate(-90)">
<text x="0.00" y="0.00" font-size="13" text-anchor="start" fill="#000" >[GeV]</text>
</g>
<g transform="translate(360.5,75) rotate(-90)">
<text x="-0.30" y="0.00" font-size="14" text-anchor="start" fill="#000" style="font-family:'Liberation Serif',serif">Λ</text>
<text x="9.50" y="3.50" font-size="9" text-anchor="start" fill="#000" >D</text>
<text x="10.80" y="-7.50" font-size="8.5" text-anchor="start" fill="#000" >peak</text>
</g>
<line x1="415.2" y1="37.8" x2="432.0" y2="37.8" stroke="#ff5050" stroke-width="1" stroke-dasharray="2.1 1.3"/>
<text x="436.80" y="41.70" font-size="11" text-anchor="start" fill="#000" style="font-family:'Liberation Serif',serif">Λ</text>
<text x="444.60" y="44.60" font-size="7.5" text-anchor="start" fill="#000" >D</text>
<text x="444.60" y="35.00" font-size="7.5" text-anchor="start" fill="#000" >peak</text>
<text x="463.40" y="41.70" font-size="11" text-anchor="start" fill="#000" >= 3.2m</text>
<text x="495.80" y="45.20" font-size="6.8" text-anchor="start" fill="#000" >π</text>
<text x="499.40" y="47.40" font-size="5" text-anchor="start" fill="#000" >D</text>
<text x="496.50" y="37.40" font-size="7.5" text-anchor="start" fill="#000" >0.8</text>
<circle cx="212.80" cy="395.30" r="2.1" fill="#990099"/>
<circle cx="227.38" cy="395.30" r="2.1" fill="#990099"/>
<circle cx="241.96" cy="384.90" r="2.1" fill="#990099"/>
<circle cx="256.54" cy="369.90" r="2.1" fill="#990099"/>
<circle cx="271.12" cy="358.60" r="2.1" fill="#990099"/>
<circle cx="314.86" cy="356.60" r="2.1" fill="#990099"/>
<circle cx="329.44" cy="360.60" r="2.1" fill="#990099"/>
<circle cx="344.02" cy="364.40" r="2.1" fill="#990099"/>
<circle cx="358.60" cy="368.10" r="2.1" fill="#990099"/>
<circle cx="373.18" cy="371.00" r="2.1" fill="#990099"/>
<circle cx="387.76" cy="373.60" r="2.1" fill="#990099"/>
<circle cx="402.34" cy="376.80" r="2.1" fill="#990099"/>
<circle cx="416.92" cy="378.40" r="2.1" fill="#990099"/>
<circle cx="431.50" cy="380.50" r="2.1" fill="#990099"/>
<circle cx="446.08" cy="382.00" r="2.1" fill="#990099"/>
<circle cx="460.66" cy="383.90" r="2.1" fill="#990099"/>
<circle cx="475.24" cy="385.20" r="2.1" fill="#990099"/>
<circle cx="489.82" cy="386.50" r="2.1" fill="#990099"/>
<path d="M277.10,354.20 L283.00,353.00 L290.80,352.40 L298.00,353.00 L307.40,355.40" fill="none" stroke="#990099" stroke-width="3.8" stroke-linecap="round" stroke-linejoin="round"/>
<line x1="244.00" y1="261.70" x2="244.00" y2="434.40" stroke="#ff6666" stroke-width="2" stroke-dasharray="3 3.03" stroke-dashoffset="-0.4"/>
<line x1="276.40" y1="261.70" x2="276.40" y2="434.40" stroke="#a010b0" stroke-width="1" stroke-dasharray="3 3.03" stroke-dashoffset="-0.4"/>
<line x1="289.50" y1="261.70" x2="289.50" y2="434.40" stroke="#000000" stroke-width="1" stroke-dasharray="3 3.03" stroke-dashoffset="-0.4"/>
<line x1="335.40" y1="261.70" x2="335.40" y2="434.40" stroke="#1a1aff" stroke-width="1.1" stroke-dasharray="3 3.03" stroke-dashoffset="-0.4"/>
<rect x="213.00" y="261.70" width="291.40" height="172.70" fill="none" stroke="#333" stroke-width="1.15"/>
<line x1="213.00" y1="434.50" x2="220.60" y2="434.50" stroke="#333" stroke-width="1.1" />
<line x1="504.40" y1="434.50" x2="496.80" y2="434.50" stroke="#333" stroke-width="1.1" />
<text x="209.80" y="438.70" font-size="10.2" text-anchor="end" fill="#000" >0</text>
<line x1="213.00" y1="430.90" x2="216.60" y2="430.90" stroke="#333" stroke-width="1.1" />
<line x1="504.40" y1="430.90" x2="500.80" y2="430.90" stroke="#333" stroke-width="1.1" />
<line x1="213.00" y1="427.30" x2="216.60" y2="427.30" stroke="#333" stroke-width="1.1" />
<line x1="504.40" y1="427.30" x2="500.80" y2="427.30" stroke="#333" stroke-width="1.1" />
<line x1="213.00" y1="423.70" x2="216.60" y2="423.70" stroke="#333" stroke-width="1.1" />
<line x1="504.40" y1="423.70" x2="500.80" y2="423.70" stroke="#333" stroke-width="1.1" />
<line x1="213.00" y1="420.10" x2="216.60" y2="420.10" stroke="#333" stroke-width="1.1" />
<line x1="504.40" y1="420.10" x2="500.80" y2="420.10" stroke="#333" stroke-width="1.1" />
<line x1="213.00" y1="416.50" x2="220.60" y2="416.50" stroke="#333" stroke-width="1.1" />
<line x1="504.40" y1="416.50" x2="496.80" y2="416.50" stroke="#333" stroke-width="1.1" />
<text x="209.80" y="420.70" font-size="10.2" text-anchor="end" fill="#000" >5</text>
<line x1="213.00" y1="412.90" x2="216.60" y2="412.90" stroke="#333" stroke-width="1.1" />
<line x1="504.40" y1="412.90" x2="500.80" y2="412.90" stroke="#333" stroke-width="1.1" />
<line x1="213.00" y1="409.30" x2="216.60" y2="409.30" stroke="#333" stroke-width="1.1" />
<line x1="504.40" y1="409.30" x2="500.80" y2="409.30" stroke="#333" stroke-width="1.1" />
<line x1="213.00" y1="405.70" x2="216.60" y2="405.70" stroke="#333" stroke-width="1.1" />
<line x1="504.40" y1="405.70" x2="500.80" y2="405.70" stroke="#333" stroke-width="1.1" />
<line x1="213.00" y1="402.10" x2="216.60" y2="402.10" stroke="#333" stroke-width="1.1" />
<line x1="504.40" y1="402.10" x2="500.80" y2="402.10" stroke="#333" stroke-width="1.1" />
<line x1="213.00" y1="398.50" x2="220.60" y2="398.50" stroke="#333" stroke-width="1.1" />
<line x1="504.40" y1="398.50" x2="496.80" y2="398.50" stroke="#333" stroke-width="1.1" />
<path d="M515,0 L515,1237 L197,1010 L197,1180 L530,1409 L696,1409 L696,0 Z" fill="#000" transform="translate(198.45,402.70) scale(0.00498,-0.00498)"/>
<text x="204.13" y="402.70" font-size="10.2" fill="#000" xml:space="preserve">0</text>
<line x1="213.00" y1="394.90" x2="216.60" y2="394.90" stroke="#333" stroke-width="1.1" />
<line x1="504.40" y1="394.90" x2="500.80" y2="394.90" stroke="#333" stroke-width="1.1" />
<line x1="213.00" y1="391.30" x2="216.60" y2="391.30" stroke="#333" stroke-width="1.1" />
<line x1="504.40" y1="391.30" x2="500.80" y2="391.30" stroke="#333" stroke-width="1.1" />
<line x1="213.00" y1="387.70" x2="216.60" y2="387.70" stroke="#333" stroke-width="1.1" />
<line x1="504.40" y1="387.70" x2="500.80" y2="387.70" stroke="#333" stroke-width="1.1" />
<line x1="213.00" y1="384.10" x2="216.60" y2="384.10" stroke="#333" stroke-width="1.1" />
<line x1="504.40" y1="384.10" x2="500.80" y2="384.10" stroke="#333" stroke-width="1.1" />
<line x1="213.00" y1="380.50" x2="220.60" y2="380.50" stroke="#333" stroke-width="1.1" />
<line x1="504.40" y1="380.50" x2="496.80" y2="380.50" stroke="#333" stroke-width="1.1" />
<path d="M515,0 L515,1237 L197,1010 L197,1180 L530,1409 L696,1409 L696,0 Z" fill="#000" transform="translate(198.45,384.70) scale(0.00498,-0.00498)"/>
<text x="204.13" y="384.70" font-size="10.2" fill="#000" xml:space="preserve">5</text>
<line x1="213.00" y1="376.90" x2="216.60" y2="376.90" stroke="#333" stroke-width="1.1" />
<line x1="504.40" y1="376.90" x2="500.80" y2="376.90" stroke="#333" stroke-width="1.1" />
<line x1="213.00" y1="373.30" x2="216.60" y2="373.30" stroke="#333" stroke-width="1.1" />
<line x1="504.40" y1="373.30" x2="500.80" y2="373.30" stroke="#333" stroke-width="1.1" />
<line x1="213.00" y1="369.70" x2="216.60" y2="369.70" stroke="#333" stroke-width="1.1" />
<line x1="504.40" y1="369.70" x2="500.80" y2="369.70" stroke="#333" stroke-width="1.1" />
<line x1="213.00" y1="366.10" x2="216.60" y2="366.10" stroke="#333" stroke-width="1.1" />
<line x1="504.40" y1="366.10" x2="500.80" y2="366.10" stroke="#333" stroke-width="1.1" />
<line x1="213.00" y1="362.50" x2="220.60" y2="362.50" stroke="#333" stroke-width="1.1" />
<line x1="504.40" y1="362.50" x2="496.80" y2="362.50" stroke="#333" stroke-width="1.1" />
<text x="209.80" y="366.70" font-size="10.2" text-anchor="end" fill="#000" >20</text>
<line x1="213.00" y1="358.90" x2="216.60" y2="358.90" stroke="#333" stroke-width="1.1" />
<line x1="504.40" y1="358.90" x2="500.80" y2="358.90" stroke="#333" stroke-width="1.1" />
<line x1="213.00" y1="355.30" x2="216.60" y2="355.30" stroke="#333" stroke-width="1.1" />
<line x1="504.40" y1="355.30" x2="500.80" y2="355.30" stroke="#333" stroke-width="1.1" />
<line x1="213.00" y1="351.70" x2="216.60" y2="351.70" stroke="#333" stroke-width="1.1" />
<line x1="504.40" y1="351.70" x2="500.80" y2="351.70" stroke="#333" stroke-width="1.1" />
<line x1="213.00" y1="348.10" x2="216.60" y2="348.10" stroke="#333" stroke-width="1.1" />
<line x1="504.40" y1="348.10" x2="500.80" y2="348.10" stroke="#333" stroke-width="1.1" />
<line x1="213.00" y1="344.50" x2="220.60" y2="344.50" stroke="#333" stroke-width="1.1" />
<line x1="504.40" y1="344.50" x2="496.80" y2="344.50" stroke="#333" stroke-width="1.1" />
<text x="209.80" y="348.70" font-size="10.2" text-anchor="end" fill="#000" >25</text>
<line x1="213.00" y1="340.90" x2="216.60" y2="340.90" stroke="#333" stroke-width="1.1" />
<line x1="504.40" y1="340.90" x2="500.80" y2="340.90" stroke="#333" stroke-width="1.1" />
<line x1="213.00" y1="337.30" x2="216.60" y2="337.30" stroke="#333" stroke-width="1.1" />
<line x1="504.40" y1="337.30" x2="500.80" y2="337.30" stroke="#333" stroke-width="1.1" />
<line x1="213.00" y1="333.70" x2="216.60" y2="333.70" stroke="#333" stroke-width="1.1" />
<line x1="504.40" y1="333.70" x2="500.80" y2="333.70" stroke="#333" stroke-width="1.1" />
<line x1="213.00" y1="330.10" x2="216.60" y2="330.10" stroke="#333" stroke-width="1.1" />
<line x1="504.40" y1="330.10" x2="500.80" y2="330.10" stroke="#333" stroke-width="1.1" />
<line x1="213.00" y1="326.50" x2="220.60" y2="326.50" stroke="#333" stroke-width="1.1" />
<line x1="504.40" y1="326.50" x2="496.80" y2="326.50" stroke="#333" stroke-width="1.1" />
<text x="209.80" y="330.70" font-size="10.2" text-anchor="end" fill="#000" >30</text>
<line x1="213.00" y1="322.90" x2="216.60" y2="322.90" stroke="#333" stroke-width="1.1" />
<line x1="504.40" y1="322.90" x2="500.80" y2="322.90" stroke="#333" stroke-width="1.1" />
<line x1="213.00" y1="319.30" x2="216.60" y2="319.30" stroke="#333" stroke-width="1.1" />
<line x1="504.40" y1="319.30" x2="500.80" y2="319.30" stroke="#333" stroke-width="1.1" />
<line x1="213.00" y1="315.70" x2="216.60" y2="315.70" stroke="#333" stroke-width="1.1" />
<line x1="504.40" y1="315.70" x2="500.80" y2="315.70" stroke="#333" stroke-width="1.1" />
<line x1="213.00" y1="312.10" x2="216.60" y2="312.10" stroke="#333" stroke-width="1.1" />
<line x1="504.40" y1="312.10" x2="500.80" y2="312.10" stroke="#333" stroke-width="1.1" />
<line x1="213.00" y1="308.50" x2="220.60" y2="308.50" stroke="#333" stroke-width="1.1" />
<line x1="504.40" y1="308.50" x2="496.80" y2="308.50" stroke="#333" stroke-width="1.1" />
<text x="209.80" y="312.70" font-size="10.2" text-anchor="end" fill="#000" >35</text>
<line x1="213.00" y1="304.90" x2="216.60" y2="304.90" stroke="#333" stroke-width="1.1" />
<line x1="504.40" y1="304.90" x2="500.80" y2="304.90" stroke="#333" stroke-width="1.1" />
<line x1="213.00" y1="301.30" x2="216.60" y2="301.30" stroke="#333" stroke-width="1.1" />
<line x1="504.40" y1="301.30" x2="500.80" y2="301.30" stroke="#333" stroke-width="1.1" />
<line x1="213.00" y1="297.70" x2="216.60" y2="297.70" stroke="#333" stroke-width="1.1" />
<line x1="504.40" y1="297.70" x2="500.80" y2="297.70" stroke="#333" stroke-width="1.1" />
<line x1="213.00" y1="294.10" x2="216.60" y2="294.10" stroke="#333" stroke-width="1.1" />
<line x1="504.40" y1="294.10" x2="500.80" y2="294.10" stroke="#333" stroke-width="1.1" />
<line x1="213.00" y1="290.50" x2="220.60" y2="290.50" stroke="#333" stroke-width="1.1" />
<line x1="504.40" y1="290.50" x2="496.80" y2="290.50" stroke="#333" stroke-width="1.1" />
<text x="209.80" y="294.70" font-size="10.2" text-anchor="end" fill="#000" >40</text>
<line x1="213.00" y1="286.90" x2="216.60" y2="286.90" stroke="#333" stroke-width="1.1" />
<line x1="504.40" y1="286.90" x2="500.80" y2="286.90" stroke="#333" stroke-width="1.1" />
<line x1="213.00" y1="283.30" x2="216.60" y2="283.30" stroke="#333" stroke-width="1.1" />
<line x1="504.40" y1="283.30" x2="500.80" y2="283.30" stroke="#333" stroke-width="1.1" />
<line x1="213.00" y1="279.70" x2="216.60" y2="279.70" stroke="#333" stroke-width="1.1" />
<line x1="504.40" y1="279.70" x2="500.80" y2="279.70" stroke="#333" stroke-width="1.1" />
<line x1="213.00" y1="276.10" x2="216.60" y2="276.10" stroke="#333" stroke-width="1.1" />
<line x1="504.40" y1="276.10" x2="500.80" y2="276.10" stroke="#333" stroke-width="1.1" />
<line x1="213.00" y1="272.50" x2="220.60" y2="272.50" stroke="#333" stroke-width="1.1" />
<line x1="504.40" y1="272.50" x2="496.80" y2="272.50" stroke="#333" stroke-width="1.1" />
<text x="209.80" y="276.70" font-size="10.2" text-anchor="end" fill="#000" >45</text>
<line x1="213.00" y1="268.90" x2="216.60" y2="268.90" stroke="#333" stroke-width="1.1" />
<line x1="504.40" y1="268.90" x2="500.80" y2="268.90" stroke="#333" stroke-width="1.1" />
<line x1="213.00" y1="265.30" x2="216.60" y2="265.30" stroke="#333" stroke-width="1.1" />
<line x1="504.40" y1="265.30" x2="500.80" y2="265.30" stroke="#333" stroke-width="1.1" />
<line x1="213.00" y1="261.70" x2="216.60" y2="261.70" stroke="#333" stroke-width="1.1" />
<line x1="504.40" y1="261.70" x2="500.80" y2="261.70" stroke="#333" stroke-width="1.1" />
<line x1="227.38" y1="434.40" x2="227.38" y2="428.30" stroke="#333" stroke-width="1.1" />
<line x1="241.96" y1="434.40" x2="241.96" y2="431.40" stroke="#333" stroke-width="1.1" />
<line x1="256.54" y1="434.40" x2="256.54" y2="428.30" stroke="#333" stroke-width="1.1" />
<line x1="271.12" y1="434.40" x2="271.12" y2="431.40" stroke="#333" stroke-width="1.1" />
<line x1="285.70" y1="434.40" x2="285.70" y2="428.30" stroke="#333" stroke-width="1.1" />
<line x1="300.28" y1="434.40" x2="300.28" y2="431.40" stroke="#333" stroke-width="1.1" />
<line x1="314.86" y1="434.40" x2="314.86" y2="428.30" stroke="#333" stroke-width="1.1" />
<line x1="329.44" y1="434.40" x2="329.44" y2="431.40" stroke="#333" stroke-width="1.1" />
<line x1="344.02" y1="434.40" x2="344.02" y2="428.30" stroke="#333" stroke-width="1.1" />
<line x1="358.60" y1="434.40" x2="358.60" y2="431.40" stroke="#333" stroke-width="1.1" />
<line x1="373.18" y1="434.40" x2="373.18" y2="428.30" stroke="#333" stroke-width="1.1" />
<line x1="387.76" y1="434.40" x2="387.76" y2="431.40" stroke="#333" stroke-width="1.1" />
<line x1="402.34" y1="434.40" x2="402.34" y2="428.30" stroke="#333" stroke-width="1.1" />
<line x1="416.92" y1="434.40" x2="416.92" y2="431.40" stroke="#333" stroke-width="1.1" />
<line x1="431.50" y1="434.40" x2="431.50" y2="428.30" stroke="#333" stroke-width="1.1" />
<line x1="446.08" y1="434.40" x2="446.08" y2="431.40" stroke="#333" stroke-width="1.1" />
<line x1="460.66" y1="434.40" x2="460.66" y2="428.30" stroke="#333" stroke-width="1.1" />
<line x1="475.24" y1="434.40" x2="475.24" y2="431.40" stroke="#333" stroke-width="1.1" />
<line x1="489.82" y1="434.40" x2="489.82" y2="428.30" stroke="#333" stroke-width="1.1" />
<line x1="227.38" y1="261.70" x2="227.38" y2="267.30" stroke="#333" stroke-width="1.1" />
<text x="227.38" y="258.40" font-size="7.5" text-anchor="middle" fill="#000" >0.03</text>
<line x1="256.54" y1="261.70" x2="256.54" y2="267.30" stroke="#333" stroke-width="1.1" />
<text x="256.54" y="258.40" font-size="7.5" text-anchor="middle" fill="#000" >5</text>
<line x1="285.70" y1="261.70" x2="285.70" y2="267.30" stroke="#333" stroke-width="1.1" />
<text x="285.70" y="258.40" font-size="7.5" text-anchor="middle" fill="#000" >30</text>
<line x1="314.86" y1="261.70" x2="314.86" y2="267.30" stroke="#333" stroke-width="1.1" />
<text x="314.86" y="258.40" font-size="7.5" text-anchor="middle" fill="#000" >73</text>
<line x1="344.02" y1="261.70" x2="344.02" y2="267.30" stroke="#333" stroke-width="1.1" />
<path d="M515,0 L515,1237 L197,1010 L197,1180 L530,1409 L696,1409 L696,0 Z" fill="#000" transform="translate(337.76,258.40) scale(0.00366,-0.00366)"/>
<text x="341.93" y="258.40" font-size="7.5" fill="#000" xml:space="preserve">23</text>
<line x1="373.18" y1="261.70" x2="373.18" y2="267.30" stroke="#333" stroke-width="1.1" />
<path d="M515,0 L515,1237 L197,1010 L197,1180 L530,1409 L696,1409 L696,0 Z" fill="#000" transform="translate(366.92,258.40) scale(0.00366,-0.00366)"/>
<text x="371.09" y="258.40" font-size="7.5" fill="#000" xml:space="preserve">75</text>
<line x1="402.34" y1="261.70" x2="402.34" y2="267.30" stroke="#333" stroke-width="1.1" />
<text x="402.34" y="258.40" font-size="7.5" text-anchor="middle" fill="#000" >224</text>
<line x1="431.50" y1="261.70" x2="431.50" y2="267.30" stroke="#333" stroke-width="1.1" />
<text x="431.50" y="258.40" font-size="7.5" text-anchor="middle" fill="#000" >270</text>
<line x1="460.66" y1="261.70" x2="460.66" y2="267.30" stroke="#333" stroke-width="1.1" />
<text x="454.40" y="258.40" font-size="7.5" fill="#000" xml:space="preserve">3</text>
<path d="M515,0 L515,1237 L197,1010 L197,1180 L530,1409 L696,1409 L696,0 Z" fill="#000" transform="translate(458.57,258.40) scale(0.00366,-0.00366)"/>
<text x="462.75" y="258.40" font-size="7.5" fill="#000" xml:space="preserve">2</text>
<line x1="489.82" y1="261.70" x2="489.82" y2="267.30" stroke="#333" stroke-width="1.1" />
<text x="483.56" y="258.40" font-size="7.5" fill="#000" xml:space="preserve">35</text>
<path d="M515,0 L515,1237 L197,1010 L197,1180 L530,1409 L696,1409 L696,0 Z" fill="#000" transform="translate(491.91,258.40) scale(0.00366,-0.00366)"/>
<text x="220.15" y="445.20" font-size="10.4" fill="#000" xml:space="preserve">0.</text>
<path d="M515,0 L515,1237 L197,1010 L197,1180 L530,1409 L696,1409 L696,0 Z" fill="#000" transform="translate(228.82,445.20) scale(0.00508,-0.00508)"/>
<text x="256.54" y="445.20" font-size="10.4" text-anchor="middle" fill="#000" >0.2</text>
<text x="285.70" y="445.20" font-size="10.4" text-anchor="middle" fill="#000" >0.3</text>
<text x="314.86" y="445.20" font-size="10.4" text-anchor="middle" fill="#000" >0.4</text>
<text x="344.02" y="445.20" font-size="10.4" text-anchor="middle" fill="#000" >0.5</text>
<text x="373.18" y="445.20" font-size="10.4" text-anchor="middle" fill="#000" >0.6</text>
<text x="402.34" y="445.20" font-size="10.4" text-anchor="middle" fill="#000" >0.7</text>
<text x="431.50" y="445.20" font-size="10.4" text-anchor="middle" fill="#000" >0.8</text>
<text x="460.66" y="445.20" font-size="10.4" text-anchor="middle" fill="#000" >0.9</text>
<path d="M515,0 L515,1237 L197,1010 L197,1180 L530,1409 L696,1409 L696,0 Z" fill="#000" transform="translate(486.93,445.20) scale(0.00508,-0.00508)"/>
<text x="505.00" y="244.60" font-size="13" text-anchor="end" fill="#000" >[GeV]</text>
<text x="451.80" y="245.30" font-size="14.5" text-anchor="start" fill="#000" style="font-family:'Liberation Serif',serif">Λ</text>
<text x="461.50" y="248.20" font-size="9" text-anchor="start" fill="#000" >D</text>
<text x="489.90" y="456.30" font-size="13.6" text-anchor="start" fill="#000" >α</text>
<text x="497.90" y="460.20" font-size="10" text-anchor="start" fill="#000" >D</text>
<g transform="translate(10.9,87.0) rotate(-90)">
<polyline points="3.5,-10.1 0.4,-4.6 3.5,1.3" fill="none" stroke="#000" stroke-width="0.9" stroke-linejoin="round"/>
<text x="3.80" y="-0.70" font-size="13.5" text-anchor="start" fill="#000" >N</text>
<text x="13.10" y="1.30" font-size="8.3" text-anchor="start" fill="#000" >π</text>
<text x="17.50" y="5.60" font-size="5.7" text-anchor="start" fill="#000" >D</text>
<text x="25.30" y="-0.10" font-size="13" text-anchor="start" fill="#000" >+</text>
<text x="37.10" y="-0.50" font-size="13.5" text-anchor="start" fill="#000" >N</text>
<text x="46.00" y="2.00" font-size="7.5" text-anchor="start" fill="#000" >ρ</text>
<text x="50.60" y="7.50" font-size="6.3" text-anchor="start" fill="#000" >D</text>
<polyline points="55.2,-10.8 58.8,-4.7 55.2,1.4" fill="none" stroke="#000" stroke-width="0.9" stroke-linejoin="round"/>
</g>
<g transform="translate(185.2,320.8) rotate(-90)">
<polyline points="3.5,-10.1 0.4,-4.6 3.5,1.3" fill="none" stroke="#000" stroke-width="0.9" stroke-linejoin="round"/>
<text x="3.80" y="-0.70" font-size="13.5" text-anchor="start" fill="#000" >N</text>
<text x="13.10" y="1.30" font-size="8.3" text-anchor="start" fill="#000" >π</text>
<text x="17.50" y="5.60" font-size="5.7" text-anchor="start" fill="#000" >D</text>
<text x="25.30" y="-0.10" font-size="13" text-anchor="start" fill="#000" >+</text>
<text x="37.10" y="-0.50" font-size="13.5" text-anchor="start" fill="#000" >N</text>
<text x="46.00" y="2.00" font-size="7.5" text-anchor="start" fill="#000" >ρ</text>
<text x="50.60" y="7.50" font-size="6.3" text-anchor="start" fill="#000" >D</text>
<polyline points="55.2,-10.8 58.8,-4.7 55.2,1.4" fill="none" stroke="#000" stroke-width="0.9" stroke-linejoin="round"/>
</g>
<circle cx="242.60" cy="43.00" r="1.9" fill="#ff1f8f"/>
<text x="250.40" y="45.10" font-size="10.6" text-anchor="start" fill="#000" >m</text>
<text x="258.90" y="47.00" font-size="6.6" text-anchor="start" fill="#000" >π</text>
<text x="262.50" y="50.00" font-size="5.0" text-anchor="start" fill="#000" >D</text>
<text x="269.60" y="45.10" font-size="10.6" fill="#000" xml:space="preserve">= </text>
<path d="M515,0 L515,1237 L197,1010 L197,1180 L530,1409 L696,1409 L696,0 Z" fill="#000" transform="translate(278.74,45.10) scale(0.00518,-0.00518)"/>
<text x="284.63" y="45.10" font-size="10.6" fill="#000" xml:space="preserve"> GeV</text>
<circle cx="242.60" cy="53.18" r="1.9" fill="#000000"/>
<text x="250.40" y="55.28" font-size="10.6" text-anchor="start" fill="#000" >m</text>
<text x="258.90" y="57.18" font-size="6.6" text-anchor="start" fill="#000" >π</text>
<text x="262.50" y="60.18" font-size="5.0" text-anchor="start" fill="#000" >D</text>
<text x="269.60" y="55.28" font-size="10.6" text-anchor="start" fill="#000" >= 5</text>
<circle cx="242.60" cy="63.36" r="1.9" fill="#0000ff"/>
<text x="250.40" y="65.46" font-size="10.6" text-anchor="start" fill="#000" >m</text>
<text x="258.90" y="67.36" font-size="6.6" text-anchor="start" fill="#000" >π</text>
<text x="262.50" y="70.36" font-size="5.0" text-anchor="start" fill="#000" >D</text>
<text x="269.60" y="65.46" font-size="10.6" fill="#000" xml:space="preserve">= </text>
<path d="M515,0 L515,1237 L197,1010 L197,1180 L530,1409 L696,1409 L696,0 Z" fill="#000" transform="translate(278.74,65.46) scale(0.00518,-0.00518)"/>
<text x="284.63" y="65.46" font-size="10.6" fill="#000" xml:space="preserve">0</text>
<circle cx="242.60" cy="73.54" r="1.9" fill="#990099"/>
<text x="250.40" y="75.64" font-size="10.6" text-anchor="start" fill="#000" >m</text>
<text x="258.90" y="77.54" font-size="6.6" text-anchor="start" fill="#000" >π</text>
<text x="262.50" y="80.54" font-size="5.0" text-anchor="start" fill="#000" >D</text>
<text x="269.60" y="75.64" font-size="10.6" text-anchor="start" fill="#000" >= 20</text>
<circle cx="242.60" cy="83.72" r="1.9" fill="#ff0000"/>
<text x="250.40" y="85.82" font-size="10.6" text-anchor="start" fill="#000" >m</text>
<text x="258.90" y="87.72" font-size="6.6" text-anchor="start" fill="#000" >π</text>
<text x="262.50" y="90.72" font-size="5.0" text-anchor="start" fill="#000" >D</text>
<text x="269.60" y="85.82" font-size="10.6" text-anchor="start" fill="#000" >= 50</text>
<circle cx="242.60" cy="93.90" r="1.9" fill="#009999"/>
<text x="250.40" y="96.00" font-size="10.6" text-anchor="start" fill="#000" >m</text>
<text x="258.90" y="97.90" font-size="6.6" text-anchor="start" fill="#000" >π</text>
<text x="262.50" y="100.90" font-size="5.0" text-anchor="start" fill="#000" >D</text>
<text x="269.60" y="96.00" font-size="10.6" text-anchor="start" fill="#000" >= 75</text>
<circle cx="242.60" cy="104.08" r="1.9" fill="#ff00ff"/>
<text x="250.40" y="106.18" font-size="10.6" text-anchor="start" fill="#000" >m</text>
<text x="258.90" y="108.08" font-size="6.6" text-anchor="start" fill="#000" >π</text>
<text x="262.50" y="111.08" font-size="5.0" text-anchor="start" fill="#000" >D</text>
<text x="269.60" y="106.18" font-size="10.6" fill="#000" xml:space="preserve">= </text>
<path d="M515,0 L515,1237 L197,1010 L197,1180 L530,1409 L696,1409 L696,0 Z" fill="#000" transform="translate(278.74,106.18) scale(0.00518,-0.00518)"/>
<text x="284.63" y="106.18" font-size="10.6" fill="#000" xml:space="preserve">00</text>
<line x1="235.90" y1="114.30" x2="239.40" y2="114.30" stroke="#000" stroke-width="1" />
<line x1="242.10" y1="114.30" x2="245.60" y2="114.30" stroke="#000" stroke-width="1" />
<text x="250.60" y="117.00" font-size="10.6" text-anchor="start" fill="#000" style="font-family:'Liberation Serif',serif">Λ</text>
<text x="258.00" y="119.60" font-size="7.5" text-anchor="start" fill="#000" >D</text>
<text x="266.60" y="117.00" font-size="10.6" text-anchor="start" fill="#000" >=</text>
<text x="276.00" y="116.60" font-size="10.6" text-anchor="start" fill="#000" >m</text>
<text x="284.50" y="119.80" font-size="6.6" text-anchor="start" fill="#000" >π</text>
<text x="288.10" y="121.60" font-size="5.0" text-anchor="start" fill="#000" >D</text>
<text x="393.60" y="280.80" font-size="10.6" text-anchor="start" fill="#000" >m</text>
<text x="402.10" y="282.70" font-size="6.6" text-anchor="start" fill="#000" >π</text>
<text x="405.70" y="285.70" font-size="5.0" text-anchor="start" fill="#000" >D</text>
<text x="412.40" y="280.80" font-size="10.6" text-anchor="start" fill="#000" >= 20 GeV</text>
<line x1="369.6" y1="296.4" x2="389.8" y2="296.4" stroke="#b030c8" stroke-width="1.1" stroke-dasharray="3.5 2.6"/>
<line x1="369.6" y1="316.2" x2="389.8" y2="316.2" stroke="#555555" stroke-width="1.1" stroke-dasharray="3.5 2.6"/>
<line x1="369.6" y1="335.9" x2="389.8" y2="335.9" stroke="#3333ff" stroke-width="1.1" stroke-dasharray="3.5 2.6"/>
<line x1="369.6" y1="355.7" x2="389.8" y2="355.7" stroke="#ff3333" stroke-width="1.1" stroke-dasharray="3.5 2.6"/>
<text x="393.50" y="300.60" font-size="10.6" text-anchor="start" fill="#000" style="font-family:'Liberation Serif',serif">Λ</text>
<text x="400.60" y="303.70" font-size="7.5" text-anchor="start" fill="#000" >D</text>
<text x="409.00" y="300.60" font-size="10.6" text-anchor="start" fill="#000" >=</text>
<text x="418.30" y="300.60" font-size="10.6" text-anchor="start" fill="#000" >m</text>
<text x="426.80" y="302.50" font-size="6.6" text-anchor="start" fill="#000" >π</text>
<text x="430.40" y="305.50" font-size="5.0" text-anchor="start" fill="#000" >D</text>
<text x="393.60" y="319.60" font-size="12" text-anchor="start" fill="#000" style="font-family:'Liberation Serif',serif">α</text>
<text x="400.60" y="323.00" font-size="7.5" text-anchor="start" fill="#000" >D</text>
<text x="400.50" y="314.30" font-size="7.5" text-anchor="start" fill="#000" >peak</text>
<text x="419.90" y="319.60" font-size="10.6" text-anchor="start" fill="#000" >(</text>
<text x="423.60" y="319.60" font-size="10.6" text-anchor="start" fill="#000" style="font-family:'Liberation Serif',serif">Λ</text>
<text x="430.20" y="322.70" font-size="7.5" text-anchor="start" fill="#000" >D</text>
<text x="438.40" y="319.60" font-size="10.6" text-anchor="start" fill="#000" >= 3.2m</text>
<text x="471.50" y="321.40" font-size="6.6" text-anchor="start" fill="#000" style="font-family:'Liberation Serif',serif">π</text>
<text x="475.00" y="324.40" font-size="5" text-anchor="start" fill="#000" >D</text>
<text x="471.50" y="314.30" font-size="7.5" text-anchor="start" fill="#000" >0.8</text>
<text x="482.40" y="319.60" font-size="10.6" text-anchor="start" fill="#000" >)</text>
<text x="393.60" y="339.80" font-size="12" text-anchor="start" fill="#000" style="font-family:'Liberation Serif',serif">α</text>
<text x="400.60" y="344.30" font-size="7.5" text-anchor="start" fill="#000" >D</text>
<text x="400.60" y="334.60" font-size="7.5" text-anchor="start" fill="#000" >high</text>
<text x="417.40" y="340.20" font-size="10.6" text-anchor="start" fill="#000" >=</text>
<text x="425.90" y="335.40" font-size="10.2" text-anchor="start" fill="#000" >3</text>
<line x1="425.90" y1="337.00" x2="431.90" y2="337.00" stroke="#000" stroke-width="0.85" />
<text x="425.90" y="346.80" font-size="10.2" text-anchor="start" fill="#000" >2</text>
<text x="432.40" y="339.80" font-size="12" text-anchor="start" fill="#000" style="font-family:'Liberation Serif',serif">α</text>
<text x="440.00" y="344.30" font-size="7.5" text-anchor="start" fill="#000" >D</text>
<text x="440.00" y="334.60" font-size="7.2" text-anchor="start" fill="#000" >peak</text>
<text x="393.60" y="359.60" font-size="12" text-anchor="start" fill="#000" style="font-family:'Liberation Serif',serif">α</text>
<text x="400.60" y="364.00" font-size="7.5" text-anchor="start" fill="#000" >D</text>
<text x="401.00" y="354.00" font-size="7.5" text-anchor="start" fill="#000" >low</text>
<text x="415.00" y="360.00" font-size="10.6" text-anchor="start" fill="#000" >=</text>
<path d="M515,0 L515,1237 L197,1010 L197,1180 L530,1409 L696,1409 L696,0 Z" fill="#000" transform="translate(424.00,355.20) scale(0.00498,-0.00498)"/>
<line x1="424.00" y1="357.00" x2="430.00" y2="357.00" stroke="#000" stroke-width="0.85" />
<text x="424.00" y="366.00" font-size="10.2" text-anchor="start" fill="#000" >2</text>
<text x="430.20" y="359.60" font-size="12" text-anchor="start" fill="#000" style="font-family:'Liberation Serif',serif">α</text>
<text x="437.40" y="364.00" font-size="7.5" text-anchor="start" fill="#000" >D</text>
<text x="437.20" y="354.00" font-size="7.2" text-anchor="start" fill="#000" >peak</text>
</svg>
</body></html>
